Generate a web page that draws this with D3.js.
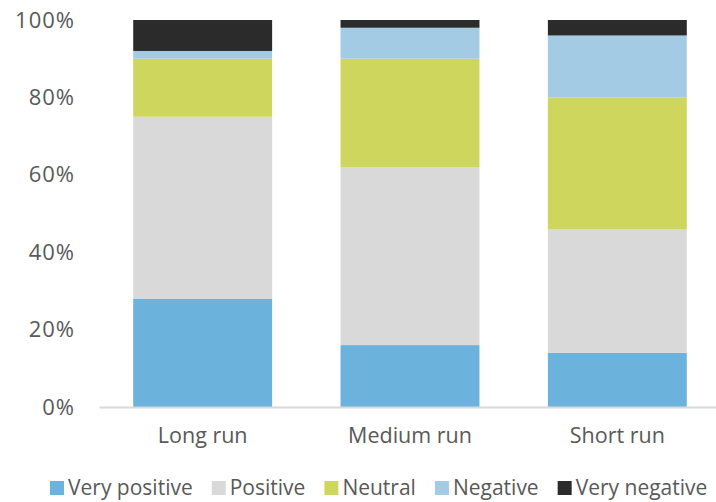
<!DOCTYPE html>
<html>
<head>
<meta charset="utf-8">
<script src="https://cdn.jsdelivr.net/npm/d3@7"></script>
<style>
  body { margin: 0; background: #fff; }
  svg text { font-family: "Open Sans", "Noto Sans", sans-serif; fill: #595959; }
</style>
</head>
<body>
<svg id="chart" width="716" height="502"></svg>
<script>
// Chart data (percent shares)
const categories = ["Long run", "Medium run", "Short run"];
const seriesNames = ["Very positive", "Positive", "Neutral", "Negative", "Very negative"];
const veryPositive = [28, 16, 14];
const positive = [47, 46, 32];
const neutral = [15, 28, 34];
const negative = [2, 8, 16];
const veryNegative = [8, 2, 4];
const yTicks = [0, 20, 40, 60, 80, 100];

const colors = ["#6BB3DC", "#D9D9D9", "#CED65E", "#A3CBE3", "#2B2B2B"];

const svg = d3.select("#chart");
const margin = { top: 20, right: -5, bottom: 95, left: 99 };
const width = 716, height = 502;

// build table for stacking
const table = categories.map((c, i) => ({
    cat: c,
    "Very positive": veryPositive[i],
    "Positive": positive[i],
    "Neutral": neutral[i],
    "Negative": negative[i],
    "Very negative": veryNegative[i]
}));
const stacked = d3.stack().keys(seriesNames)(table);

const x = d3.scaleBand()
    .domain(categories)
    .range([margin.left, width - margin.right])
    .paddingInner(0.33)
    .paddingOuter(0.165);

const y = d3.scaleLinear()
    .domain([0, 100])
    .range([height - margin.bottom, margin.top]);

// y axis labels (no line)
const yAxis = svg.append("g")
    .attr("transform", `translate(${margin.left - 24},0)`)
    .call(d3.axisLeft(y).tickValues(yTicks).tickFormat(d => d + "%").tickSize(0));
yAxis.select(".domain").remove();
yAxis.selectAll("text")
    .attr("x", 0)
    .style("font-size", "22px")
    .style("letter-spacing", "1px")
    .attr("fill", "#595959");

// bars
svg.append("g").selectAll("g")
    .data(stacked)
    .join("g")
    .attr("fill", (d, i) => colors[i])
    .selectAll("rect")
    .data(d => d)
    .join("rect")
    .attr("x", d => x(d.data.cat))
    .attr("width", x.bandwidth())
    .attr("y", d => y(d[1]))
    .attr("height", d => y(d[0]) - y(d[1]));

// x axis
const xAxis = svg.append("g")
    .attr("transform", `translate(0,${y(0)})`)
    .call(d3.axisBottom(x).tickSize(0).tickPadding(21));
xAxis.select(".domain").attr("stroke", "#D9D9D9").attr("stroke-width", 2);
xAxis.selectAll("text")
    .style("font-size", "21.5px")
    .attr("fill", "#595959");

// legend
const legend = svg.append("g").attr("transform", "translate(50,488)");
let lx = 0;
seriesNames.forEach((name, i) => {
    const item = legend.append("g").attr("transform", `translate(${lx},0)`);
    item.append("rect")
        .attr("x", 0)
        .attr("y", -7)
        .attr("width", 14)
        .attr("height", 14)
        .attr("fill", colors[i]);
    const t = item.append("text")
        .attr("x", 18)
        .attr("y", 0)
        .attr("dy", "0.35em")
        .style("font-size", "21px")
        .text(name);
    lx += 18 + t.node().getComputedTextLength() + 19;
});
</script>
</body>
</html>
